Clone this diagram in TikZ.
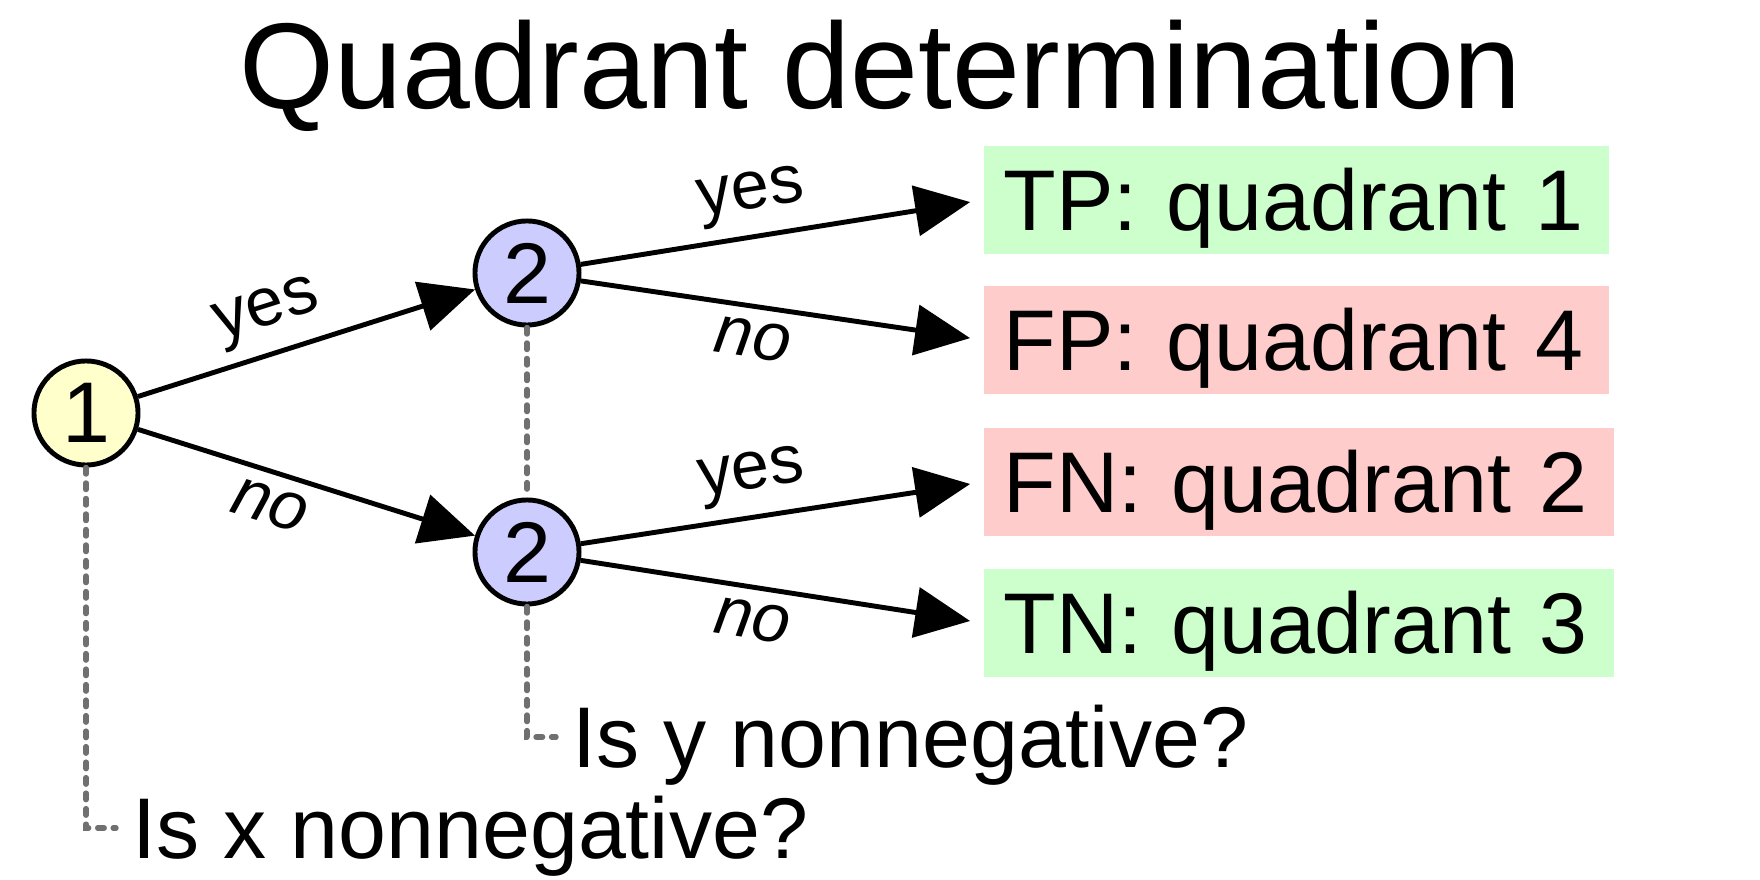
\documentclass[tikz,border=0pt]{standalone}
\usepackage{fontspec}
\setmainfont{Liberation Sans}
\usetikzlibrary{arrows.meta,positioning,calc}
\definecolor{qyel}{HTML}{FFFFCC}
\definecolor{qblu}{HTML}{CCCCFF}
\definecolor{okg}{HTML}{CCFFCC}
\definecolor{bad}{HTML}{FFCCCC}
\definecolor{dgr}{HTML}{707070}
\tikzset{
  qnode/.style={circle,draw=black,line width=1.4pt,minimum size=1.04cm,inner sep=0pt,font=\fontsize{24.5}{29}\selectfont},
  res/.style={anchor=west,minimum height=1.07cm,inner xsep=0.2cm,text width=#1,align=left,text height=0.616cm,text depth=0pt,font=\fontsize{24.5}{29}\selectfont},
  gres/.style={res=#1,fill=okg},
  rres/.style={res=#1,fill=bad},
  ask/.style={anchor=west,inner xsep=0.16cm,inner ysep=0.1cm,text height=0.616cm,text depth=0pt,font=\fontsize{24.5}{29}\selectfont},
  ar/.style={-{Triangle[length=0.55cm,width=0.5cm]},line width=1.4pt},
  dl/.style={draw=dgr,line width=1.55pt,line cap=round,dash pattern=on 0.065cm off 0.09cm},
  yeslab/.style={font=\fontsize{19.4}{23}\selectfont,sloped,above,pos=0.44},
  nolab/.style={font=\fontsize{19.4}{23}\selectfont\itshape,sloped,below,pos=0.44},
}
\begin{document}
\begin{tikzpicture}[x=0.01cm,y=-0.01cm]
  \useasboundingbox (0,0) rectangle (1760,880);
  \node[anchor=base,font=\fontsize{34.7}{40}\selectfont] (title) at (881,109) {Quadrant determination};
  % decision nodes
  \node[qnode,fill=qyel] (x) at (86,413) {1};
  \node[qnode,fill=qblu] (yp) at (527,273) {2};
  \node[qnode,fill=qblu] (yn) at (527,552) {2};
  % outcomes
  \node[gres=5.85cm] (tp) at (983,200) {TP: quadrant 1};
  \node[rres=5.85cm] (fp) at (983,340) {FP: quadrant 4};
  \node[rres=5.9cm] (fn) at (983,482) {FN: quadrant 2};
  \node[gres=5.9cm] (tn) at (983,623) {TN: quadrant 3};
  \node[ask] (qx) at (116,828) {Is x nonnegative?};
  \node[ask] (qy) at (556,737) {Is y nonnegative?};
  \draw[ar] (x) -- node[yeslab,pos=0.42]{yes} (yp);
  \draw[ar] (x) -- node[nolab,pos=0.42]{no} (yn);
  \draw[ar,shorten >=0.13cm] (yp) -- node[yeslab]{yes} (tp.west);
  \draw[ar,shorten >=0.13cm] (yp) -- node[nolab]{no} (fp.west);
  \draw[ar,shorten >=0.13cm] (yn) -- node[yeslab]{yes} (fn.west);
  \draw[ar,shorten >=0.13cm] (yn) -- node[nolab]{no} (tn.west);
  \draw[dl] (x.south) |- (qx.west);
  \draw[dl] (yp.south) -- (yn.north);
  \draw[dl] (yn.south) |- (qy.west);
\end{tikzpicture}
\end{document}
